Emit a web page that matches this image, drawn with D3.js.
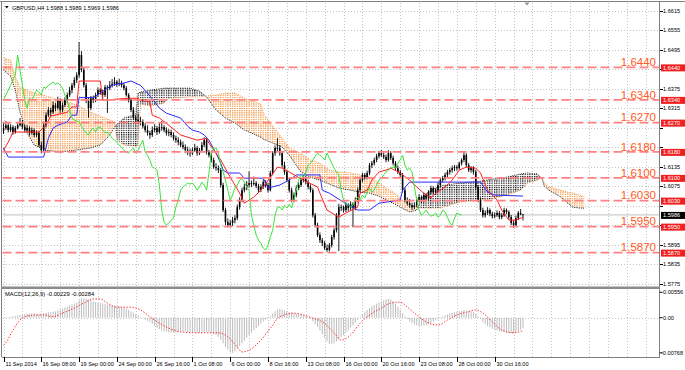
<!DOCTYPE html>
<html><head><meta charset="utf-8">
<script src="https://cdnjs.cloudflare.com/ajax/libs/d3/7.8.5/d3.min.js"></script>
<style>
body{margin:0;background:#fff;}
svg{display:block;}
text{font-family:"Liberation Sans",Arial,sans-serif;}
</style>
</head><body>
<svg id="c" width="685" height="370"></svg>
<script>
// ---------------- DATA ----------------
const titleText = "GBPUSD,H4  1.5988 1.5989 1.5969 1.5986";
const macdTitle = "MACD(12,26,9) -0.00229 -0.00284";
const priceTicks = [1.6615,1.6555,1.6495,1.6435,1.6375,1.6315,1.6255,1.6195,1.6135,1.6075,1.6015,1.5955,1.5895,1.5835,1.5775];
const levels = [1.6440,1.6340,1.6270,1.6180,1.6100,1.6030,1.5950,1.5870];
const lastPrice = 1.5986;
const macdTicks = [0.00556, 0.00, -0.00768];
const macdTickLabels = ["0.00556","0.00","-0.00768"];
const timeLabels = ["11 Sep 2014","16 Sep 08:00","19 Sep 00:00","24 Sep 00:00","26 Sep 16:00","1 Oct 08:00","6 Oct 00:00","8 Oct 16:00","13 Oct 08:00","16 Oct 00:00","20 Oct 16:00","23 Oct 08:00","28 Oct 00:00","30 Oct 16:00"];
const timeLabelBars = [0,16,32,48,64,80,96,112,128,144,160,176,192,208];

// candles in pips: [open, high, low, close]
const candles = [
[16245,16268,16235,16253],[16253,16275,16248,16262],[16262,16270,16240,16247],[16247,16265,16241,16256],[16256,16262,16232,16241],
[16241,16260,16236,16253],[16253,16271,16249,16262],[16262,16284,16258,16272],[16272,16278,16250,16256],[16256,16263,16240,16247],
[16247,16262,16242,16253],[16253,16258,16230,16238],[16238,16255,16233,16247],[16247,16252,16225,16232],[16232,16246,16226,16238],
[16238,16243,16195,16201],[16201,16212,16176,16185],[16185,16270,16180,16262],[16262,16301,16255,16293],[16293,16318,16287,16309],
[16309,16316,16290,16302],[16302,16335,16297,16324],[16324,16331,16305,16315],[16315,16350,16310,16339],[16339,16345,16300,16309],
[16309,16332,16302,16324],[16324,16348,16318,16339],[16339,16362,16330,16355],[16355,16380,16349,16370],[16370,16392,16360,16385],
[16385,16410,16377,16401],[16401,16425,16392,16416],[16416,16518,16408,16478],[16478,16490,16425,16432],[16432,16440,16378,16385],
[16385,16392,16330,16339],[16339,16348,16285,16315],[16315,16352,16308,16345],[16345,16353,16330,16339],[16339,16362,16333,16355],
[16355,16378,16349,16370],[16370,16376,16356,16364],[16364,16371,16340,16355],[16355,16386,16349,16379],[16379,16385,16300,16376],
[16376,16398,16370,16385],[16385,16404,16378,16389],[16389,16410,16383,16395],[16395,16401,16380,16389],[16389,16405,16382,16392],
[16392,16399,16378,16385],[16385,16392,16369,16376],[16376,16382,16350,16355],[16355,16361,16332,16339],[16339,16345,16302,16309],
[16309,16318,16279,16284],[16284,16292,16270,16278],[16278,16296,16268,16275],[16275,16288,16262,16272],[16272,16280,16252,16259],
[16259,16268,16240,16247],[16247,16262,16230,16238],[16238,16245,16220,16232],[16232,16258,16226,16247],[16247,16265,16240,16253],
[16253,16260,16232,16241],[16241,16270,16236,16256],[16256,16275,16245,16256],[16256,16262,16240,16247],[16247,16255,16230,16238],
[16238,16250,16228,16241],[16241,16248,16225,16232],[16232,16240,16215,16222],[16222,16230,16208,16216],[16216,16225,16200,16210],
[16210,16218,16195,16201],[16201,16212,16188,16195],[16195,16203,16176,16185],[16185,16196,16170,16179],[16179,16190,16165,16176],
[16176,16194,16170,16185],[16185,16205,16180,16192],[16192,16198,16168,16176],[16176,16192,16170,16185],[16185,16210,16180,16201],
[16201,16225,16195,16216],[16216,16222,16172,16179],[16179,16186,16163,16170],[16170,16178,16148,16155],[16155,16162,16128,16133],
[16133,16145,16122,16130],[16130,16138,16115,16124],[16124,16130,16070,16078],[16078,16085,15995,16001],[16001,16008,15955,15964],
[15964,15975,15948,15955],[15955,15970,15949,15961],[15961,15980,15952,15970],[15970,15985,15960,15976],[15976,16018,15970,16010],
[16010,16040,16002,16032],[16032,16070,16025,16062],[16062,16082,16055,16072],[16072,16090,16062,16078],[16078,16120,16070,16084],
[16084,16092,16072,16081],[16081,16104,16076,16084],[16084,16090,16068,16075],[16075,16082,16055,16062],[16062,16080,16056,16072],
[16072,16095,16066,16087],[16087,16093,16070,16078],[16078,16085,16055,16062],[16062,16122,16058,16115],[16115,16182,16108,16176],
[16176,16200,16168,16192],[16192,16222,16183,16192],[16192,16200,16168,16176],[16176,16182,16132,16139],[16139,16150,16110,16118],
[16118,16125,16088,16093],[16093,16100,16055,16062],[16062,16070,16025,16032],[16032,16055,16026,16047],[16047,16077,16040,16069],
[16069,16086,16062,16078],[16078,16101,16072,16093],[16093,16108,16086,16099],[16099,16106,16080,16087],[16087,16094,16065,16072],
[16072,16080,16055,16062],[16062,16068,15978,15985],[15985,15992,15948,15955],[15955,15962,15918,15924],[15924,15932,15900,15908],
[15908,15915,15890,15899],[15899,15906,15878,15884],[15884,15895,15872,15878],[15878,15900,15873,15893],[15893,15925,15886,15918],
[15918,15945,15910,15939],[15939,15992,15932,15985],[15985,16020,15875,16010],[16010,16018,15998,16010],[16010,16015,15993,16001],
[16001,16025,15995,16016],[16016,16022,15998,16007],[16007,16028,16000,16019],[16019,16025,15948,16007],[16007,16040,16000,16032],
[16032,16070,16025,16062],[16062,16100,16055,16093],[16093,16116,16086,16109],[16109,16115,16095,16102],[16102,16122,16096,16115],
[16115,16146,16108,16139],[16139,16152,16130,16145],[16145,16162,16138,16155],[16155,16174,16148,16167],[16167,16183,16160,16176],
[16176,16186,16164,16170],[16170,16178,16158,16164],[16164,16172,16148,16155],[16155,16185,16150,16176],[16176,16182,16155,16161],
[16161,16168,16138,16145],[16145,16152,16124,16130],[16130,16138,16112,16118],[16118,16125,16102,16109],[16109,16115,16055,16062],
[16062,16070,16025,16032],[16032,16040,16015,16022],[16022,16035,16008,16016],[16016,16024,16002,16010],[16010,16025,16004,16016],
[16016,16040,16010,16032],[16032,16050,16025,16041],[16041,16046,16022,16032],[16032,16055,16026,16047],[16047,16053,16030,16038],
[16038,16062,16032,16056],[16056,16076,16050,16069],[16069,16074,16050,16056],[16056,16068,16048,16062],[16062,16086,16056,16078],
[16078,16100,16072,16093],[16093,16106,16086,16099],[16099,16116,16092,16109],[16109,16125,16102,16118],[16118,16130,16110,16124],
[16124,16138,16116,16130],[16130,16140,16121,16133],[16133,16139,16122,16130],[16130,16150,16125,16145],[16145,16160,16138,16155],
[16155,16182,16148,16170],[16170,16176,16132,16139],[16139,16146,16118,16124],[16124,16136,16116,16130],[16130,16136,16110,16118],
[16118,16125,16066,16072],[16072,16078,16025,16032],[16032,16040,15995,16001],[16001,16008,15978,15985],[15985,16000,15978,15992],
[15992,16010,15986,16001],[16001,16006,15982,15989],[15989,15996,15975,15982],[15982,15994,15976,15985],[15985,16000,15980,15992],
[15992,15998,15972,15979],[15979,15992,15973,15985],[15985,16008,15980,16001],[16001,16006,15988,15995],[15995,16000,15972,15979],
[15979,15986,15955,15961],[15961,15970,15946,15955],[15955,15984,15950,15976],[15976,15998,15970,15992],[15992,16004,15985,15988],
[15988,15989,15969,15986]
];

// Ichimoku lines: [bar, pips]
const tenkan = [[0,16185],[2,16210],[3,16225],[4,16241],[15,16241],[18,16262],[20,16290],[27,16302],[29,16318],[31,16318],[32,16398],[41,16398],[42,16339],[53,16345],[57,16345],[58,16339],[62,16333],[63,16293],[66,16284],[70,16262],[75,16232],[82,16216],[86,16222],[87,16207],[92,16155],[95,16115],[100,16053],[102,16022],[106,16041],[109,16062],[113,16102],[116,16133],[118,16130],[121,16118],[127,16093],[133,16072],[134,16053],[137,16001],[142,15979],[145,15992],[150,16010],[151,16053],[154,16062],[156,16093],[159,16118],[162,16124],[164,16130],[168,16115],[172,16093],[175,16072],[178,16053],[181,16038],[182,16047],[185,16062],[188,16078],[190,16093],[193,16124],[196,16133],[200,16130],[202,16115],[205,16062],[209,16032],[211,16001],[214,15970],[217,15970],[220,15979]];
const kijun = [[0,16192],[2,16164],[17,16164],[19,16222],[21,16253],[23,16262],[27,16272],[29,16293],[31,16293],[32,16347],[38,16347],[41,16361],[44,16376],[46,16385],[51,16392],[54,16398],[58,16385],[62,16352],[66,16315],[69,16299],[75,16284],[78,16259],[80,16247],[83,16241],[85,16232],[87,16216],[90,16176],[92,16145],[93,16124],[95,16115],[100,16115],[102,16099],[110,16099],[112,16069],[117,16078],[121,16093],[124,16109],[134,16109],[135,16062],[138,16053],[144,16025],[150,16001],[155,16001],[159,16022],[168,16032],[169,16062],[172,16087],[202,16087],[205,16056],[208,16047],[220,16044]];
// Kumo (shifted 26 bars ahead): shared bar positions, span A and span B in pips
const cloudBars = [0,3,5,7,10,13,18,24,30,37,41,45,47,48,51,55,56,57,58,62,68,70,79,83,86,90,94,98,102,106,109,110,114,118,121,126,130,134,138,142,147,151,155,159,162,165,168,172,175,177,181,185,193,202,207,213,219,222,226,228,229,231,236,239,241,244,246];
const spanA = [16432,16413,16370,16302,16238,16201,16185,16179,16185,16192,16201,16232,16256,16265,16284,16293,16293,16361,16364,16370,16376,16376,16376,16367,16349,16309,16284,16269,16247,16235,16225,16219,16207,16195,16170,16118,16102,16093,16081,16069,16062,16056,16053,16044,16032,16022,16010,15995,16001,16038,16062,16075,16084,16090,16096,16102,16112,16115,16112,16099,16075,16062,16041,16022,16010,16007,16007];
const spanB = [16469,16462,16410,16379,16370,16361,16352,16339,16327,16302,16290,16278,16272,16216,16201,16198,16198,16198,16327,16321,16330,16345,16349,16349,16352,16355,16361,16361,16345,16336,16327,16299,16259,16222,16192,16176,16155,16145,16124,16118,16115,16109,16102,16084,16069,16056,16038,16016,16010,16007,16007,16007,16025,16032,16035,16047,16062,16084,16093,16099,16084,16072,16062,16056,16053,16047,16041];
const chikouShift = 26;

// MACD main (histogram) per bar, in units of 0.0001
const macdMain = [
-3,-1,1,2,3,4,5,6,
7,8,9,9,9,9,8,8,9,10,11,12,12,13,14,
16,18,20,22,24,27,29,31,33,38,
42,43,42,40,38,36,
34,33,32,31,30,29,28,27,27,26,25,24,22,20,17,14,11,
8,5,2,-1,-4,-7,
-10,-14,-18,-22,-25,-28,-30,-31,-32,-32,-32,
-32,-31,-31,-30,-30,-31,-31,-32,-32,-33,-33,-32,-31,-31,-32,-34,-36,-38,
-42,-48,-56,-64,-70,-75,-77,-74,-68,-62,
-56,-50,-44,-38,-33,-28,-23,-18,-13,-8,-4,0,
4,9,14,18,19,18,16,14,12,11,
10,9,8,7,5,3,1,-2,
-8,-14,-20,-28,-36,-44,-52,-57,-58,-56,
-52,-47,-42,-38,-33,-28,-22,-17,-11,-5,
2,8,13,17,21,25,28,31,33,36,
38,40,41,40,36,30,24,17,10,3,
-3,-8,-12,-15,-17,-18,-18,-17,-16,-14,
-12,-9,-6,-3,0,3,5,7,9,11,
12,13,14,15,17,16,15,14,12,8,
3,-3,-9,-14,-18,-21,-24,-26,-28,-30,
-31,-32,-33,-33,-34,-34,-32,-29,-26,-22.9
];
// MACD signal: [bar, value*1e4]
const macdSignal = [[0,-60],[1,-55],[4,-27],[8,-1],[13,6],[17,6],[21,2],[25,10],[30,21],[34,32],[38,41],[41,41],[44,32],[48,23],[54,23],[58,17],[62,2],[66,-12],[71,-25],[75,-31],[82,-33],[91,-33],[95,-42],[99,-64],[101,-75],[104,-71],[109,-49],[113,-23],[117,2],[123,10],[127,6],[131,-1],[135,-9],[140,-33],[143,-49],[147,-38],[151,-12],[155,6],[160,21],[164,32],[168,34],[171,23],[175,6],[179,-9],[184,-16],[188,-5],[192,6],[196,12],[200,17],[203,10],[207,-9],[211,-27],[216,-33],[220,-28.4]];

// ---------------- LAYOUT ----------------
const PL = 2.5, PR = 659.5, MT = 3, MB = 286, GT = 289.5, GB = 357;
const x = d3.scaleLinear().domain([0, 220]).range([3.5, 523]);
const y = d3.scaleLinear().domain([1.5775, 1.6615]).range([283.5, 10.5]);
const ym = d3.scaleLinear().domain([-0.00768, 0.00556]).range([352.8, 292.3]);
const P = v => v / 10000;

const svg = d3.select("#c");
const defs = svg.append("defs");
defs.append("clipPath").attr("id","clipMain").append("rect").attr("x",PL).attr("y",MT).attr("width",PR-PL).attr("height",MB-MT);
defs.append("clipPath").attr("id","clipMacd").append("rect").attr("x",PL).attr("y",GT).attr("width",PR-PL).attr("height",GB-GT);

const pOr = defs.append("pattern").attr("id","pOr").attr("patternUnits","userSpaceOnUse").attr("x",3).attr("y",0).attr("width",2.36).attr("height",2.2);
pOr.append("rect").attr("width",1.3).attr("height",1.3).attr("fill","#f29a4a");
const pDk = defs.append("pattern").attr("id","pDk").attr("patternUnits","userSpaceOnUse").attr("x",3).attr("y",0).attr("width",2.36).attr("height",2.2);
pDk.append("rect").attr("width",1.2).attr("height",1.2).attr("fill","#000");

const cloud = cloudBars.map((b,i)=>({b, a:P(spanA[i]), s:P(spanB[i])}));
defs.append("clipPath").attr("id","clipAboveA").append("path")
  .attr("d", d3.area().x(d=>x(d.b)).y0(0).y1(d=>y(d.a))(cloud));
defs.append("clipPath").attr("id","clipBelowA").append("path")
  .attr("d", d3.area().x(d=>x(d.b)).y0(d=>y(d.a)).y1(300)(cloud));

// background
svg.append("rect").attr("width",685).attr("height",370).attr("fill","#fff");

// grid
const grid = svg.append("g").attr("stroke","#c4c4c4").attr("stroke-width",1).attr("stroke-dasharray","1,2").attr("shape-rendering","crispEdges");
priceTicks.forEach(t=>{
  grid.append("line").attr("x1",PL).attr("x2",PR).attr("y1",Math.round(y(t))+0.5).attr("y2",Math.round(y(t))+0.5);
});
for(let b=0; x(b)<PR-2; b+=8){
  const xx = Math.round(x(b))+0.5;
  grid.append("line").attr("x1",xx).attr("x2",xx).attr("y1",MT).attr("y2",MB);
  grid.append("line").attr("x1",xx).attr("x2",xx).attr("y1",GT).attr("y2",GB);
}
grid.append("line").attr("x1",PL).attr("x2",PR).attr("y1",Math.round(ym(0))+0.5).attr("y2",Math.round(ym(0))+0.5);

const main = svg.append("g").attr("clip-path","url(#clipMain)");

// current price line
main.append("line").attr("x1",PL).attr("x2",PR).attr("y1",y(lastPrice)).attr("y2",y(lastPrice))
  .attr("stroke","#c0c0c0").attr("stroke-width",1);

// kumo
const between = d3.area().x(d=>x(d.b)).y0(d=>y(d.a)).y1(d=>y(d.s));
main.append("path").attr("d",between(cloud)).attr("fill","url(#pOr)").attr("clip-path","url(#clipAboveA)");
main.append("path").attr("d",between(cloud)).attr("fill","url(#pDk)").attr("clip-path","url(#clipBelowA)");
main.append("path").attr("d",d3.line().x(d=>x(d.b)).y(d=>y(d.s))(cloud)).attr("fill","none").attr("stroke","#f29a4a").attr("stroke-width",1).attr("stroke-dasharray","1,1.2");
main.append("path").attr("d",d3.line().x(d=>x(d.b)).y(d=>y(d.a))(cloud)).attr("fill","none").attr("stroke","#222").attr("stroke-width",1).attr("stroke-dasharray","1,1.2");

// candles
const cg = main.append("g");
candles.forEach((c,i)=>{
  const [o,h,l,cl] = c.map(P);
  const xx = x(i);
  cg.append("line").attr("x1",xx).attr("x2",xx).attr("y1",y(h)).attr("y2",y(l)).attr("stroke","#000").attr("stroke-width",0.9);
  const top = y(Math.max(o,cl)), bot = y(Math.min(o,cl));
  cg.append("rect").attr("x",xx-0.8).attr("width",1.6).attr("y",top).attr("height",Math.max(0.8,bot-top)).attr("fill","#000");
});

// ichimoku lines
const lineBP = d3.line().x(d=>x(d[0])).y(d=>y(P(d[1])));
main.append("path").attr("d",lineBP(kijun)).attr("fill","none").attr("stroke","#2a2aff").attr("stroke-width",1);
main.append("path").attr("d",lineBP(tenkan)).attr("fill","none").attr("stroke","#ff2020").attr("stroke-width",1);
const chikou = candles.map((c,i)=>[i-chikouShift, c[3]]).filter(d=>d[0]>=0);
main.append("path").attr("d",lineBP(chikou)).attr("fill","none").attr("stroke","#3ae43a").attr("stroke-width",1);

// horizontal levels
levels.forEach(lv=>{
  const yy = y(lv);
  svg.append("line").attr("x1",PL).attr("x2",PR).attr("y1",yy).attr("y2",yy)
    .attr("stroke","#ff8080").attr("stroke-width",1.6).attr("stroke-dasharray","9,4");
  svg.append("text").attr("x",656).attr("y",yy-1.2).attr("text-anchor","end")
    .attr("font-size",11.5).attr("fill","#ff5a22").text(lv.toFixed(4));
});

// MACD panel
const mg = svg.append("g").attr("clip-path","url(#clipMacd)");
macdMain.forEach((v,i)=>{
  const vv = v/10000;
  const y0 = ym(0), y1 = ym(vv);
  mg.append("rect").attr("x",x(i)-0.5).attr("width",1).attr("y",Math.min(y0,y1)).attr("height",Math.max(0.5,Math.abs(y1-y0))).attr("fill","#bdbdbd");
});
mg.append("path").attr("d",d3.line().x(d=>x(d[0])).y(d=>ym(d[1]/10000)).curve(d3.curveMonotoneX)(macdSignal))
  .attr("fill","none").attr("stroke","#ff3030").attr("stroke-width",1).attr("stroke-dasharray","1.4,1.6");

// frames
const fr = svg.append("g").attr("stroke","#808080").attr("fill","none").attr("shape-rendering","crispEdges");
fr.append("line").attr("x1",0).attr("x2",685).attr("y1",1.5).attr("y2",1.5);
fr.append("line").attr("x1",1.5).attr("x2",1.5).attr("y1",1.5).attr("y2",GB);
fr.append("line").attr("x1",PR).attr("x2",PR).attr("y1",1.5).attr("y2",GB);
svg.append("rect").attr("x",1).attr("y",286.5).attr("width",659).attr("height",2.5).attr("fill","#8c8c8c");
fr.append("line").attr("x1",1.5).attr("x2",PR).attr("y1",GB+0.5).attr("y2",GB+0.5);

// right price axis (labels hidden where a level box covers them)
const boxPrices = levels.concat([lastPrice]);
const ax = svg.append("g").attr("font-size",5.6).attr("fill","#000");
priceTicks.forEach(t=>{
  svg.append("line").attr("x1",PR).attr("x2",PR+3).attr("y1",Math.round(y(t))+0.5).attr("y2",Math.round(y(t))+0.5).attr("stroke","#000").attr("shape-rendering","crispEdges");
  const covered = boxPrices.some(b=>Math.abs(y(b)-y(t))<6.5);
  if(!covered) ax.append("text").attr("x",663).attr("y",y(t)+2).text(t.toFixed(4));
});
levels.forEach(lv=>{
  const yy = y(lv);
  svg.append("rect").attr("x",661).attr("y",yy-3).attr("width",24).attr("height",7).attr("fill","#f02020");
  svg.append("text").attr("x",663).attr("y",yy+2.4).attr("font-size",5.6).attr("fill","#fff").text(lv.toFixed(4));
});
svg.append("rect").attr("x",661).attr("y",y(lastPrice)-3).attr("width",24).attr("height",7).attr("fill","#000");
svg.append("text").attr("x",663).attr("y",y(lastPrice)+2.4).attr("font-size",5.6).attr("fill","#fff").text(lastPrice.toFixed(4));

// macd axis
macdTicks.forEach((t,i)=>{
  svg.append("line").attr("x1",PR).attr("x2",PR+3).attr("y1",ym(t)).attr("y2",ym(t)).attr("stroke","#000");
  svg.append("text").attr("x",i===2?661:663).attr("y",ym(t)+2).attr("font-size",5.6).text(macdTickLabels[i]);
});

// time axis
timeLabels.forEach((lab,i)=>{
  const xx = Math.round(x(timeLabelBars[i]))+0.5;
  svg.append("line").attr("x1",xx).attr("x2",xx).attr("y1",GB).attr("y2",GB+5).attr("stroke","#000").attr("shape-rendering","crispEdges");
  svg.append("text").attr("x",xx+1).attr("y",365.5).attr("font-size",5.6).text(lab);
});

// titles
svg.append("path").attr("d","M5,6 L8.6,6 L6.8,8.4 Z").attr("fill","#000");
svg.append("text").attr("x",12).attr("y",9.6).attr("font-size",5.6).text(titleText);
svg.append("text").attr("x",5).attr("y",296).attr("font-size",5.8).text(macdTitle);
// chart shift marker
svg.append("path").attr("d","M524.5,2.5 L529.5,2.5 L527,5.5 Z").attr("fill","#909090");
</script>
</body></html>
